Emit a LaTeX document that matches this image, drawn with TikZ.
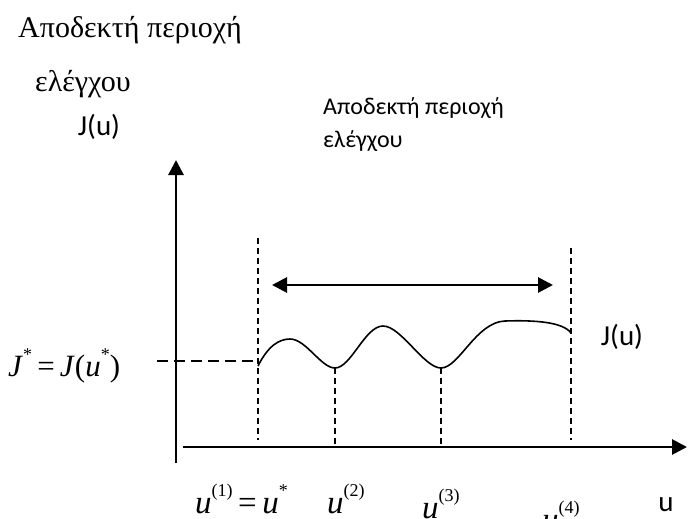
\documentclass[tikz,border=0pt]{standalone}
\usepackage{fontspec}
\setmainfont{Liberation Serif}
\newfontfamily\sansgr{Carlito}
\usetikzlibrary{arrows.meta}
\newcommand{\upper}[1]{\raisebox{0.5em}{\fontsize{18}{18}\selectfont #1}}
\tikzset{
  axis/.style={line width=2.8pt,-{Triangle[length=15pt,width=15pt]}},
  guide/.style={line width=1.5pt,dash pattern=on 6pt off 4pt},
  hguide/.style={line width=1.8pt,dash pattern=on 11pt off 6pt},
  curve/.style={line width=1.6pt},
  span/.style={line width=2.8pt,{Triangle[length=15pt,width=15pt]}-{Triangle[length=15pt,width=15pt]}},
  sanslbl/.style={font=\sansgr\fontsize{24}{28}\selectfont,inner sep=0pt},
  jlbl/.style={font=\sansgr\fontsize{29}{32}\selectfont,inner sep=0pt},
  seriflbl/.style={font=\fontsize{30}{34}\selectfont,inner sep=0pt},
  mathlbl/.style={font=\fontsize{33}{36}\selectfont,inner sep=0pt},
  jstarlbl/.style={font=\fontsize{31}{34}\selectfont,inner sep=0pt},
}
\begin{document}
\begin{tikzpicture}[x=1pt,y=-1pt]
\useasboundingbox (0,0) rectangle (688,519);
% axes
\coordinate (o) at (176,463);
\coordinate (ytip) at (176,160);
\coordinate (xs) at (183,447);
\coordinate (xtip) at (687,447);
\draw[axis] (o) -- (ytip);
\draw[axis] (xs) -- (xtip);
% guides
\coordinate (g1t) at (258,238); \coordinate (g1b) at (258,440);
\coordinate (g2t) at (335,368); \coordinate (g2b) at (335,446);
\coordinate (g3t) at (441,368); \coordinate (g3b) at (441,446);
\coordinate (g4t) at (571,248); \coordinate (g4b) at (571,440);
\draw[guide] (g1t) -- (g1b);
\draw[guide] (g2t) -- (g2b);
\draw[guide] (g3t) -- (g3b);
\draw[guide] (g4t) -- (g4b);
\coordinate (hs) at (157,361);
\coordinate (he) at (258,361);
\coordinate (c0) at (258,366);
\draw[hguide] (hs) -- (he);
% curve
\draw[curve] (c0) .. controls (268,346) and (279,339) .. (290,339)
  .. controls (306,339) and (321,368) .. (335,368)
  .. controls (351,368) and (365,326) .. (383,326)
  .. controls (401,326) and (424,368) .. (441,368)
  .. controls (459,368) and (476,322) .. (505,321)
  .. controls (535,320) and (563,322) .. (571,333);
% span arrow
\coordinate (sa) at (272,285);
\coordinate (sb) at (553,285);
\draw[span] (sa) -- (sb);
% labels
\node[seriflbl,anchor=base west] (t1) at (18,38) {Αποδεκτή περιοχή};
\node[seriflbl,anchor=base west] (t2) at (35,92) {ελέγχου};
\node[jlbl] (jtop) at (99,127) {J(u)};
\node[sanslbl,anchor=base west] (m1) at (323,114) {Αποδεκτή περιοχή};
\node[sanslbl,anchor=base west] (m2) at (323,147) {ελέγχου};
\node[jlbl] (jr) at (622,337) {J(u)};
\node[jstarlbl,anchor=base west] (jstar) at (8,376) {\textit{J}\upper{*}\,=\,\textit{J}(\textit{u}\upper{*})};
\node[mathlbl,anchor=base west] (u1) at (195,513) {\textit{u}\upper{(1)}\,=\,\textit{u}\upper{*}};
\node[mathlbl,anchor=base west] (u2) at (327,513) {\textit{u}\upper{(2)}};
\node[mathlbl,anchor=base west] (u3) at (422,518) {\textit{u}\upper{(3)}};
\node[mathlbl,anchor=base west] (u4) at (542,530) {\textit{u}\upper{(4)}};
\node[jlbl] (ux) at (666,505) {u};
\end{tikzpicture}
\end{document}
